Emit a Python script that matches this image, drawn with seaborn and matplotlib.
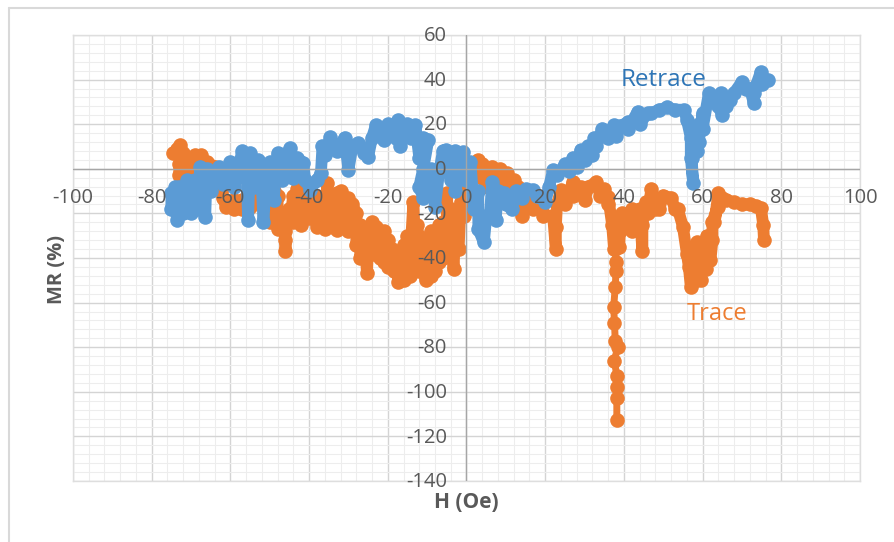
import matplotlib
matplotlib.use("Agg")
import matplotlib.pyplot as plt
import seaborn as sns
import pandas as pd
from matplotlib.lines import Line2D
from matplotlib.ticker import MultipleLocator

# (H, MR), in the order the sweep runs
trace_left = [(-74.5, 7), (-73.5, 9), (-72.8, 10.5), (-72, 7), (-73, 2), (-73, -3), (-71, 4), (-71, -2), (-69, 6),
              (-69.5, 0), (-67.5, 6), (-67, 0), (-66, 3), (-64, 1), (-63, -3), (-62, -8), (-62, -13), (-61, -17),
              (-59, -18), (-59, -14), (-57, -18), (-57, -14), (-55, -17), (-53, -12), (-50, -12), (-50, -24),
              (-49, -10), (-48, -12), (-48, -27), (-47, -20), (-46.5, -26), (-46, -32), (-46, -37), (-46, -28),
              (-45, -18), (-45, -24), (-44, -12), (-44, -24), (-43, -9), (-43, -18), (-42, -25), (-42, -12),
              (-41, -10), (-40, -14), (-40, -22), (-39, -20), (-38, -26), (-38, -12), (-37, -25), (-36, -12),
              (-36, -27), (-35.4, -6.5), (-35, -18), (-34, -12), (-34, -26), (-33, -11), (-33, -27.5), (-32, -10),
              (-31, -14), (-31, -26), (-30, -13), (-30, -28), (-29, -16), (-28, -20), (-28, -34), (-27, -25),
              (-27, -40), (-26, -28), (-25.3, -46.7), (-25, -35), (-25, -27), (-24, -24), (-24, -38), (-23, -26),
              (-23, -38), (-22, -30), (-22, -40)]
trace_mid = [(-21, -28), (-21, -42), (-20, -32), (-20, -44), (-19, -36), (-18.5, -46), (-18, -38), (-17.3, -50.6),
             (-17, -40), (-16, -50), (-16, -34), (-15, -48), (-15, -30), (-14.3, -48), (-14, -30), (-13.5, -15),
             (-13, -38), (-12.5, -25), (-12, -46), (-12, -30), (-11, -44), (-11, -32), (-10.4, -50), (-10, -38),
             (-9, -48), (-9, -28), (-8, -46), (-8, -30), (-7, -42), (-7, -25), (-6, -40), (-6, -24), (-5, -38),
             (-5, -11), (-4.5, -30), (-4, -18), (-3.3, -45), (-3, -33), (-3, -24), (-2, -36), (-1.5, -15),
             (-0.7, -21), (-1, -12), (0, -2), (1, 1), (2.8, 4), (4, 2), (4, -4), (5, 0), (5.5, -8), (6.5, 1),
             (7, -6), (8.5, 0), (8.5, -6), (10.3, -2), (10.5, -8), (12, -5), (12, -12), (13, -8), (14, -21),
             (15, -14), (14, -17), (17, -18), (19.5, -14), (19.5, -21)]
trace_right = [(22, -21), (22.7, -36), (22.7, -26), (23, -16), (24, -9.5), (25, -16), (27, -6), (27, -12), (29, -8),
               (30, -14), (31, -8), (33, -6), (34, -12), (35, -9), (36, -16), (36, -12.5), (37, -25), (37.5, -36)]
trace_spike = [(37.8, -36), (38, -42), (38, -46), (37.8, -53), (37.4, -62), (37.6, -69), (37.8, -77), (38.4, -80),
               (37.6, -86), (38.2, -93), (38.2, -98), (38.2, -103), (38.2, -112.5)]
trace_end = [(38.8, -35), (39, -28), (39.5, -20), (40.5, -26), (42, -18), (42, -28), (44, -18), (44.7, -37),
             (44.7, -25), (45.5, -15), (46, -20), (47, -9), (48, -18), (49, -18), (50, -12), (52, -13), (53, -18),
             (53.7, -18), (55, -26), (56, -38), (56.5, -44), (57, -53), (57.5, -42), (58, -50), (58.5, -33),
             (58.5, -50), (59.5, -42), (59.5, -50), (60, -40), (60.8, -45), (61, -30), (62, -41), (62.5, -32),
             (62.5, -24), (63.8, -17), (63, -24), (64, -11), (65, -13), (66, -14), (68, -15), (70, -16), (72, -16),
             (73.5, -16.5), (74.8, -17.5), (75.4, -25), (75.6, -32)]

retrace_left = [(-75, -11), (-75, -18), (-74, -8), (-73.6, -23), (-73, -8), (-72, -20), (-71, -5), (-70, -20),
                (-69, -5), (-68, -18), (-67.7, 1), (-66.4, -21.5), (-66, 0), (-65, -10), (-63, 1), (-62, -7),
                (-60, 3), (-59, -8), (-57, 8), (-56, 5), (-55.5, -23), (-55, 7), (-54, -8), (-53, 4), (-52, -8),
                (-51.6, -24), (-51, -5), (-50, 3), (-49, -14), (-48, 7), (-47, -5), (-46, 6), (-44.8, 9.4),
                (-44, -4), (-43, 5), (-41.5, 2.7), (-41, -5), (-39.7, -9.4), (-38, -5), (-37, -2), (-36.6, 10),
                (-36, 6), (-34.6, 14.3), (-33, 8), (-31, 14), (-30, -0.5), (-29, 10), (-27.7, 11.6), (-26, 7),
                (-25, 5.4), (-24, 14), (-23, 19.7), (-21, 13), (-20, 20), (-18, 14), (-17.3, 22), (-16.8, 10),
                (-15, 20), (-14, 14), (-13, 19.7), (-12, 5), (-11, 14), (-9.7, 13), (-11, 0), (-12, -8), (-11, -13),
                (-9, 0), (-8, -17), (-7, -2), (-6, 8), (-5.3, 8.5), (-4, -5), (-3, 8), (-2.8, -10), (-1.5, 2),
                (-0.8, 7.6), (0, -5), (1, 3)]
retrace_mid = [(1.9, -18), (3, -10), (3, -27), (4.4, -33), (5, -22), (6, -20), (6.5, -6), (7, -20), (7.4, -23),
               (8, -10), (9.5, -11), (10, -16), (11.6, -18), (12.5, -10), (14, -13), (15, -9), (16.8, -9.4),
               (18, -12), (20, -15), (21, -8), (22, -0.5), (23, -3), (25, 2), (26, -1), (27, 5), (28, 1), (29, 8.5),
               (30, 4), (31, 10), (32, 6), (32.5, 14), (33, 10), (34.5, 18), (36, 14), (37.5, 19.7), (38, 14.5),
               (39, 19), (41, 21), (41, 18), (43.5, 25.6), (44, 20), (46, 25), (47, 25), (49, 26.5), (51, 27.5),
               (53, 26.5), (55.3, 26.5), (56, 22), (57, 14), (57, 5), (57.6, -6.3), (57.2, 5), (58, 15), (58.5, 8),
               (59, 20), (59, 12), (60, 25), (60, 18), (61.6, 34)]
retrace_end = [(63, 32), (64, 28), (65, 24), (64.7, 34), (66, 28), (67, 31), (68, 34), (70, 39), (71, 36), (72, 36),
               (73, 29.6), (73, 34), (73.5, 37), (74.8, 43.5), (75, 38), (76.5, 40)]

x_ticks = [-100, -80, -60, -40, -20, 20, 40, 60, 80, 100]
y_ticks = [60, 40, 20, -20, -40, -60, -80, -100, -120, -140]

ORANGE = "#ed7d31"
BLUE = "#5b9bd5"
GRAY = "#595959"
FONT = "Open Sans"

sns.set_theme(style="white")
plt.rcParams["font.family"] = [FONT, "DejaVu Sans"]

fig = plt.figure(figsize=(8.95, 5.42), dpi=100)
ax = fig.add_axes([73 / 895, 1 - 481 / 542, (860 - 73) / 895, (481 - 35) / 542])

trace_a = pd.DataFrame(trace_left + trace_mid + trace_right, columns=["H", "MR"])
trace_b = pd.DataFrame(trace_end, columns=["H", "MR"])
spike = pd.DataFrame(trace_spike, columns=["H", "MR"])
retrace = pd.DataFrame(retrace_left + retrace_mid + retrace_end, columns=["H", "MR"])

# the spike is thin so its single markers stay visible
sns.lineplot(data=spike, x="H", y="MR", ax=ax, sort=False, estimator=None, color=ORANGE,
             linewidth=5, marker="o", markersize=10.5, markeredgewidth=0)
for df, color in [(trace_a, ORANGE), (trace_b, ORANGE), (retrace, BLUE)]:
    sns.lineplot(data=df, x="H", y="MR", ax=ax, sort=False, estimator=None, color=color,
                 linewidth=8.5, marker="o", markersize=10.5, markeredgewidth=0,
                 solid_joinstyle="round", solid_capstyle="round")

ax.set_xlim(-100, 100)
ax.set_ylim(-140, 60)
ax.xaxis.set_major_locator(MultipleLocator(20))
ax.yaxis.set_major_locator(MultipleLocator(20))
ax.xaxis.set_minor_locator(MultipleLocator(4))
ax.yaxis.set_minor_locator(MultipleLocator(4))
ax.grid(which="major", color="#d4d4d4", linewidth=1)
ax.grid(which="minor", color="#ededed", linewidth=0.8)
ax.set_axisbelow(True)
ax.tick_params(which="both", length=0, labelbottom=False, labelleft=False)
ax.set_xlabel("")
ax.set_ylabel("")
for side, spine in ax.spines.items():
    spine.set_color("#dedede")
    spine.set_linewidth(1)

# zero lines and tick labels sit on top of the markers
ax.axhline(0, color="#a6a6a6", linewidth=1, zorder=4)
ax.axvline(0, color="#a6a6a6", linewidth=1, zorder=4)
for t in x_ticks:
    ax.text(t, -13, str(t), ha="center", va="center", fontsize=14.5, color=GRAY, zorder=5, clip_on=False)
ax.text(0, -13, "0", ha="center", va="center", fontsize=14.5, color=GRAY, zorder=5)
ax.text(-5, -0.5, "0", ha="right", va="center", fontsize=14.5, color=GRAY, zorder=5)
for t in y_ticks:
    ax.text(-5, t - 0.5, str(t), ha="right", va="center", fontsize=14.5, color=GRAY, zorder=5, clip_on=False)

ax.text(39.2, 40, "Retrace", color="#2e75b6", fontsize=17.5, ha="left", va="center", zorder=5)
ax.text(56, -65, "Trace", color=ORANGE, fontsize=17, ha="left", va="center", zorder=5)

fig.text(466 / 895, 1 - 502 / 542, "H (Oe)", fontsize=15, fontweight="bold", color=GRAY, ha="center", va="center")
fig.text(57 / 895, 1 - 269 / 542, "MR (%)", fontsize=14.5, fontweight="bold", color=GRAY, ha="center", va="center",
         rotation=90)

# outer chart frame
fig.add_artist(Line2D([9.5 / 895, 9.5 / 895], [0, 1 - 8 / 542], color="#d9d9d9", linewidth=1.5))
fig.add_artist(Line2D([9 / 895, 1], [1 - 8 / 542, 1 - 8 / 542], color="#d9d9d9", linewidth=1.5))

fig.savefig("out.png", dpi=100)
